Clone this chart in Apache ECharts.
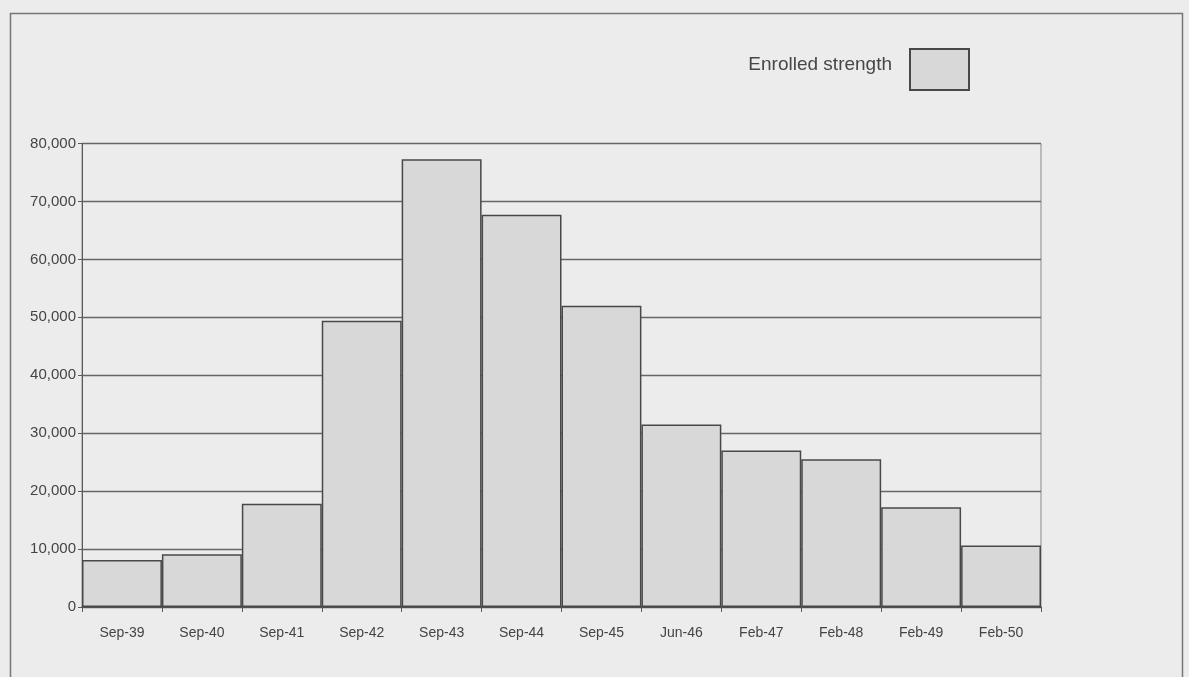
<!DOCTYPE html>
<html>
<head>
<meta charset="utf-8">
<script src="https://cdn.jsdelivr.net/npm/echarts@6/dist/echarts.min.js"></script>
<style>
  html, body { margin: 0; padding: 0; background: #e9e9e9; }
  #chart { width: 1189px; height: 677px; }
</style>
</head>
<body>
<div id="chart"></div>
<script>
// ---- data ----
const categories = ['Sep-39', 'Sep-40', 'Sep-41', 'Sep-42', 'Sep-43', 'Sep-44', 'Sep-45', 'Jun-46', 'Feb-47', 'Feb-48', 'Feb-49', 'Feb-50'];
const enrolledStrength = [8100, 9100, 17800, 49400, 77300, 67700, 52000, 31500, 27000, 25500, 17200, 10600];
const seriesName = 'Enrolled strength';
const yMin = 0;
const yMax = 80000;
const yInterval = 10000;

const chart = echarts.init(document.getElementById('chart'), null, { renderer: 'canvas' });

const font = "'Liberation Sans', Arial, sans-serif";

chart.setOption({
  backgroundColor: '#ececec',
  animation: false,
  graphic: [{
    type: 'rect',
    shape: { x: 10.5, y: 13.5, width: 1172, height: 700 },
    style: { fill: 'transparent', stroke: '#767676', lineWidth: 1.5 },
    silent: true, z: -1
  }],
  legend: {
    data: [seriesName],
    right: 219,
    top: 48,
    padding: 0,
    align: 'right',
    itemWidth: 59,
    itemHeight: 41,
    icon: 'rect',
    formatter: '{t|{name}}',
    textStyle: {
      fontFamily: font, fontSize: 19, color: '#474747',
      rich: { t: { fontFamily: font, fontSize: 19, color: '#474747', padding: [0, 13, 10, 0] } }
    }
  },
  grid: {
    left: 82, right: 148, top: 143.5, bottom: 70,
    show: true, borderColor: '#8a8a8a', borderWidth: 1, backgroundColor: 'transparent'
  },
  xAxis: {
    type: 'category',
    data: categories,
    boundaryGap: true,
    axisLine: { show: true, lineStyle: { color: '#4a4a4a', width: 1.5 } },
    axisTick: { show: true, interval: 0, length: 5, alignWithLabel: false, lineStyle: { color: '#5a5a5a' } },
    axisLabel: { interval: 0, margin: 19, fontFamily: font, fontSize: 14, color: '#444444' }
  },
  yAxis: {
    type: 'value',
    min: yMin, max: yMax, interval: yInterval,
    axisLine: { show: true, lineStyle: { color: '#5a5a5a', width: 1 } },
    axisTick: { show: true, length: 4, lineStyle: { color: '#5a5a5a' } },
    axisLabel: {
      margin: 6, fontFamily: font, fontSize: 15, color: '#444444',
      formatter: v => v.toLocaleString('en-US')
    },
    splitLine: { show: true, lineStyle: { color: '#666666', width: 1.3 } }
  },
  series: [{
    name: seriesName,
    type: 'bar',
    data: enrolledStrength,
    barCategoryGap: '0%',
    itemStyle: { color: '#d8d8d8', borderColor: '#484848', borderWidth: 1.5 }
  }]
});
</script>
</body>
</html>
